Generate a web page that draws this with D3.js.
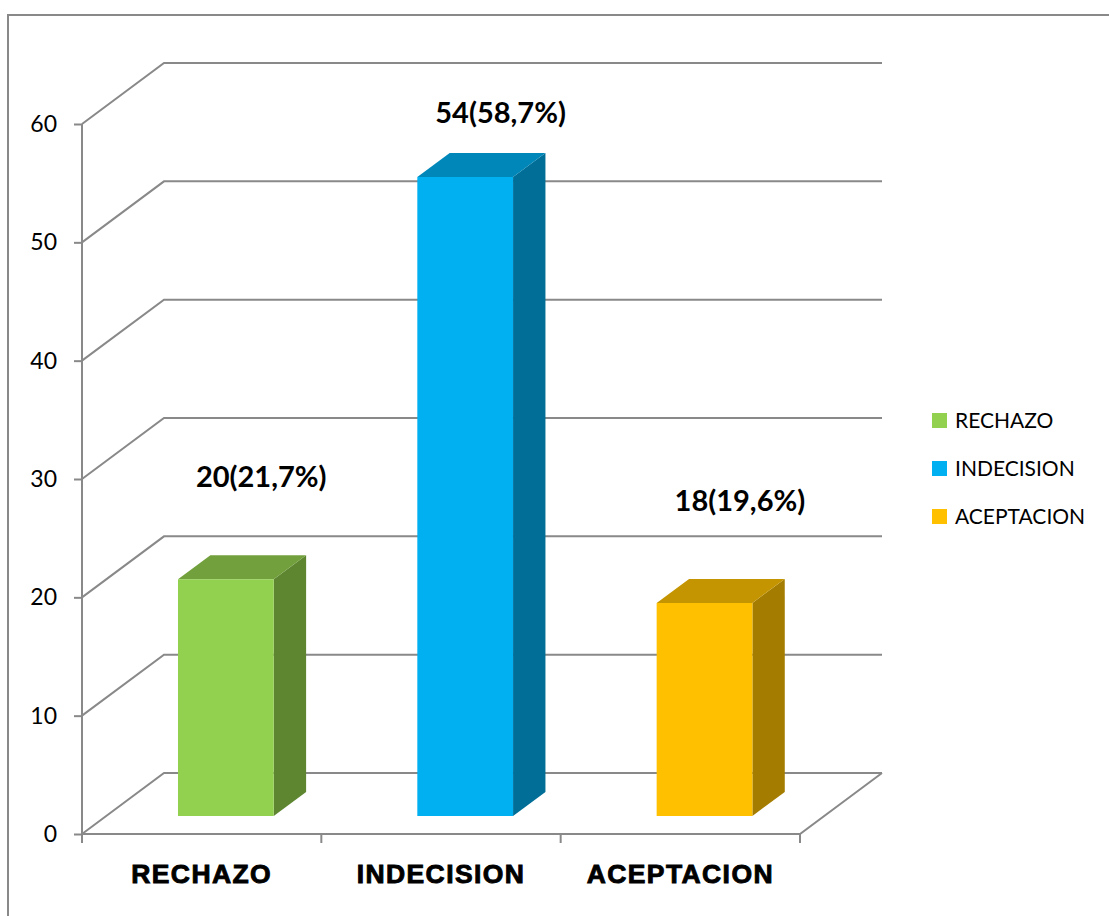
<!DOCTYPE html>
<html>
<head>
<meta charset="utf-8">
<script src="https://cdn.jsdelivr.net/npm/d3@7"></script>
<style>
  html, body { margin: 0; padding: 0; background: #ffffff; }
  svg { display: block; }
</style>
</head>
<body>
<svg id="chart" width="1109" height="916"></svg>
<script>
// ---- data ----
const categories = ["RECHAZO", "INDECISION", "ACEPTACION"];
const values = [20, 54, 18];
const dataLabels = ["20(21,7%)", "54(58,7%)", "18(19,6%)"];
const yTicks = [0, 10, 20, 30, 40, 50, 60];
const frontColors = ["#92D050", "#00B0F0", "#FFC000"];
const topColors = ["#72A03C", "#0087BA", "#C49500"];
const sideColors = ["#5E8631", "#006E96", "#A47D00"];

// ---- layout ----
const svg = d3.select("#chart");
const grid = "#898989";
const depthVec = [82, -61];          // back wall offset
const barD0 = 0.295, barD1 = 0.69;   // bar depth range (fraction)
const y = d3.scaleLinear().domain([0, 60]).range([834, 124]);
const x = d3.scaleBand().domain(categories).range([82, 800]).padding(0);
const barW = x.bandwidth() * 0.4;
const P = (px, v, d) => [px + d * depthVec[0], y(v) + d * depthVec[1]];

// outer border (cut at right/bottom like reference)
svg.append("path")
  .attr("d", "M8,930 L8,15 L1120,15")
  .attr("fill", "none").attr("stroke", grid).attr("stroke-width", 2);

// gridlines: side wall diagonals + back wall horizontals
const gl = svg.append("g").attr("fill", "none").attr("stroke", grid).attr("stroke-width", 2);
yTicks.forEach(v => {
  const a = P(x.range()[0], v, 0), b = P(x.range()[0], v, 1), c = P(x.range()[1], v, 1);
  gl.append("path").attr("d", d3.line()([a, b, c]));
});
// floor right edge and front edge
gl.append("path").attr("d", d3.line()([P(82, 0, 0), P(800, 0, 0), P(800, 0, 1)]));
// left axis vertical
gl.append("path").attr("d", d3.line()([P(82, 0, 0), P(82, 60, 0)]));

// y axis ticks & labels
const yAxis = d3.axisLeft(y).tickValues(yTicks).tickSize(8).tickPadding(17);
const ya = svg.append("g").attr("transform", "translate(82,0)").call(yAxis);
ya.select(".domain").remove();
ya.selectAll(".tick line").attr("stroke", grid).attr("stroke-width", 2);
ya.selectAll(".tick text")
  .attr("font-family", "Lato, 'Open Sans', sans-serif")
  .attr("font-size", 23).attr("fill", "#000");

// x axis ticks at category boundaries
const xb = categories.map(c => x(c)).concat([x.range()[1]]);
svg.append("g").selectAll("line").data(xb).join("line")
  .attr("x1", d => d).attr("x2", d => d)
  .attr("y1", y(0)).attr("y2", y(0) + 9)
  .attr("stroke", grid).attr("stroke-width", 2);

// category labels
svg.append("g").selectAll("text").data(categories).join("text")
  .attr("x", d => x(d) + x.bandwidth() / 2)
  .attr("y", 883)
  .attr("text-anchor", "middle")
  .attr("font-family", "'Liberation Sans', Arial, sans-serif")
  .attr("font-weight", "bold")
  .attr("font-size", 26.5)
  .attr("letter-spacing", 1.4)
  .attr("stroke", "#000").attr("stroke-width", 0.9)
  .attr("fill", "#000")
  .text(d => d);

// bars (3D)
const bars = svg.append("g");
categories.forEach((c, i) => {
  const cx = x(c) + x.bandwidth() / 2;
  const l = cx - barW / 2, r = cx + barW / 2, v = values[i];
  const g = bars.append("g");
  g.append("path").attr("d", d3.line()([P(r, 0, barD0), P(r, 0, barD1), P(r, v, barD1), P(r, v, barD0)]) + "Z")
    .attr("fill", sideColors[i]);
  g.append("path").attr("d", d3.line()([P(l, v, barD0), P(l, v, barD1), P(r, v, barD1), P(r, v, barD0)]) + "Z")
    .attr("fill", topColors[i]);
  g.append("path").attr("d", d3.line()([P(l, 0, barD0), P(l, v, barD0), P(r, v, barD0), P(r, 0, barD0)]) + "Z")
    .attr("fill", frontColors[i]);
  const top = P(cx, v, barD1);
  g.append("text")
    .attr("x", top[0] + 3)
    .attr("y", Math.max(top[1] - 68, y(60) - 1))
    .attr("text-anchor", "middle")
    .attr("font-family", "Lato, 'Open Sans', sans-serif")
    .attr("font-weight", "bold")
    .attr("font-size", 29)
    .attr("fill", "#000")
    .text(dataLabels[i]);
});

// legend
const lg = svg.append("g").attr("transform", "translate(932,413)");
categories.forEach((c, i) => {
  const row = lg.append("g").attr("transform", `translate(0,${i * 48})`);
  row.append("rect").attr("width", 15).attr("height", 15).attr("fill", frontColors[i]);
  row.append("text").attr("x", 23).attr("y", 15)
    .attr("font-family", "Lato, 'Open Sans', sans-serif")
    .attr("font-size", 21).attr("fill", "#000")
    .text(c);
});
</script>
</body>
</html>
